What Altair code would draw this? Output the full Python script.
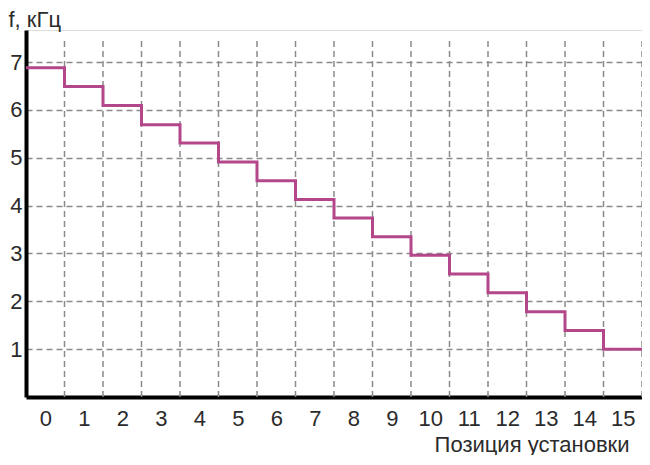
import altair as alt
import pandas as pd

positions = list(range(16))
freq_khz = [6.88, 6.49, 6.09, 5.69, 5.31, 4.91, 4.52, 4.13, 3.74, 3.35, 2.96, 2.57, 2.18, 1.78, 1.39, 1.00]
y_ticks = [1, 2, 3, 4, 5, 6, 7]
y_title = "f, кГц"
x_title = "Позиция установки"

# step line: each position occupies the band [p-0.5, p+0.5]
step_df = pd.DataFrame({
    "x": [p - 0.5 for p in positions] + [positions[-1] + 0.5],
    "f": freq_khz + [freq_khz[-1]],
})
grid_df = pd.DataFrame({"x": [p + 0.5 for p in positions], "y0": 0.0, "y1": 7.5})

FONT = "Liberation Sans"
TXT = "#2b2b2b"
x_scale = alt.Scale(domain=[-0.5, 15.5], nice=False, zero=False)
y_scale = alt.Scale(domain=[0, 7.67], nice=False)

vgrid = alt.Chart(grid_df).mark_rule(
    color="#8a8a8a", strokeWidth=1.5, strokeDash=[6, 4]
).encode(
    x=alt.X("x:Q", scale=x_scale),
    y=alt.Y("y0:Q", scale=y_scale),
    y2="y1:Q",
)

line = alt.Chart(step_df).mark_line(
    interpolate="step-after", color="#b3478a", strokeWidth=3
).encode(
    x=alt.X("x:Q", scale=x_scale,
            axis=alt.Axis(values=positions, title=x_title, grid=False, ticks=False,
                          domainColor="black", domainWidth=4,
                          labelFont=FONT, labelFontSize=22, labelColor=TXT,
                          labelPadding=11, labelFlush=False,
                          titleFont=FONT, titleFontSize=22, titleFontWeight="normal",
                          titleColor=TXT, titleAnchor="end", titleAlign="right",
                          titleBaseline="alphabetic", titleX=603, titleY=54)),
    y=alt.Y("f:Q", scale=y_scale,
            axis=alt.Axis(values=y_ticks, title=y_title, grid=True, ticks=False,
                          gridColor="#8a8a8a", gridWidth=1.5, gridDash=[6, 4],
                          domainColor="black", domainWidth=4,
                          labelFont=FONT, labelFontSize=22, labelColor=TXT,
                          labelPadding=4,
                          titleFont=FONT, titleFontSize=22, titleFontWeight="normal",
                          titleColor=TXT, titleAngle=0, titleAlign="left",
                          titleBaseline="alphabetic", titleX=-18, titleY=-4)),
)

chart = alt.layer(vgrid, line).properties(
    width=616, height=367,
    autosize=alt.AutoSizeParams(type="none"),
    padding={"left": 18, "top": 22, "right": 0, "bottom": 58},
).configure_view(stroke=None).configure(background="white")

chart.save("out.html", embed_options={"renderer": "svg", "actions": False})
